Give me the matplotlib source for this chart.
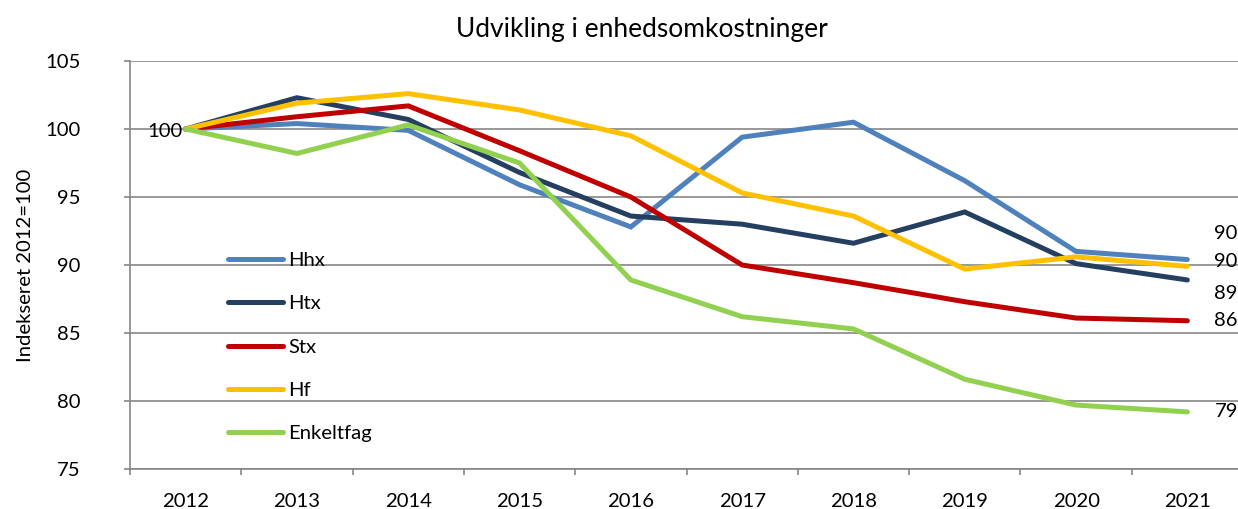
import matplotlib
matplotlib.use("Agg")
import matplotlib.pyplot as plt
from matplotlib.ticker import FixedLocator, NullFormatter

plt.rcParams['font.family'] = ['Lato', 'DejaVu Sans']

years = ["2012", "2013", "2014", "2015", "2016", "2017", "2018", "2019", "2020", "2021"]
hhx = [100, 100.4, 99.9, 95.9, 92.8, 99.4, 100.5, 96.2, 91.0, 90.4]
htx = [100, 102.3, 100.7, 96.8, 93.6, 93.0, 91.6, 93.9, 90.1, 88.9]
stx = [100, 100.9, 101.7, 98.4, 95.0, 90.0, 88.7, 87.3, 86.1, 85.9]
hf = [100, 101.9, 102.6, 101.4, 99.5, 95.3, 93.6, 89.7, 90.6, 89.9]
enkeltfag = [100, 98.2, 100.3, 97.5, 88.9, 86.2, 85.3, 81.6, 79.7, 79.2]

series_names = ["Hhx", "Htx", "Stx", "Hf", "Enkeltfag"]
series_values = [hhx, htx, stx, hf, enkeltfag]
colors = ["#4F81BD", "#243F60", "#C00000", "#FFC000", "#92D050"]
end_labels = ["90", "89", "86", "90", "79"]
end_offsets = [18.7, -9.4, 0, 3.6, 0]  # vertical label offsets in points

FS = 14.6

fig = plt.figure(figsize=(12.38, 5.09), dpi=100)
ax = fig.add_axes([130/1238, 1-469/509, (1243-130)/1238, (469-61)/509])

x = list(range(len(years)))
for i in range(len(series_names)):
    ax.plot(x, series_values[i], color=colors[i], lw=3.6, label=series_names[i],
            solid_capstyle='round', solid_joinstyle='miter', zorder=3)

ax.set_xlim(-0.5, len(years) - 0.5)
ax.set_ylim(75, 105)
ax.set_yticks([75, 80, 85, 90, 95, 100, 105])
ax.set_xticks(x)
ax.set_xticklabels(years)
ax.xaxis.set_minor_locator(FixedLocator([i + 0.5 for i in range(-1, len(years))]))
ax.xaxis.set_minor_formatter(NullFormatter())
ax.tick_params(axis='x', which='major', length=0, pad=17, labelsize=FS)
ax.tick_params(axis='x', which='minor', length=4.5, width=1.2, color='#868686', direction='out')
ax.tick_params(axis='y', length=4.5, width=1.2, color='#868686', labelsize=FS, pad=31)

ax.grid(axis='y', color='#868686', lw=1.2, zorder=1)
ax.set_axisbelow(True)
for s in ['top', 'right']:
    ax.spines[s].set_visible(False)
for s in ['left', 'bottom']:
    ax.spines[s].set_color('#868686')
    ax.spines[s].set_linewidth(1.2)

ax.set_ylabel("Indekseret 2012=100", fontsize=FS, labelpad=8)
fig.text(642/1238, 1-30/509, "Udvikling i enhedsomkostninger", ha='center', va='center', fontsize=19)

# data labels
ax.annotate("100", (0, 100), xytext=(-2, -1.5), textcoords='offset points',
            ha='right', va='center', fontsize=FS)
for i in range(len(series_names)):
    ax.annotate(end_labels[i], (x[-1], series_values[i][-1]), xytext=(19.5, end_offsets[i]),
                textcoords='offset points', ha='left', va='center', fontsize=FS,
                annotation_clip=False)

leg = ax.legend(loc='upper left', bbox_to_anchor=(90/1113, 1-183/408), frameon=False,
                fontsize=FS, handlelength=2.72, handletextpad=0.25, labelspacing=1.28,
                borderaxespad=0)

fig.savefig("out.png", dpi=100)
